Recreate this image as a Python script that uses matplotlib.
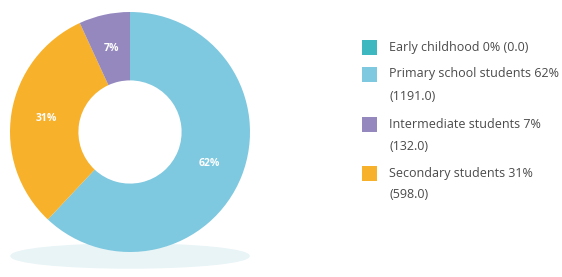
import matplotlib
matplotlib.use("Agg")
import matplotlib.pyplot as plt
from matplotlib.patches import Ellipse, Rectangle

categories = ["Early childhood", "Primary school students", "Intermediate students", "Secondary students"]
values = [0.0, 1191.0, 132.0, 598.0]
percents = [0, 62, 7, 31]
colors = ["#3DB8C0", "#7EC8E0", "#9488BE", "#F7B12B"]
legend_lines = [
    ["Early childhood 0% (0.0)"],
    ["Primary school students 62%", "(1191.0)"],
    ["Intermediate students 7%", "(132.0)"],
    ["Secondary students 31%", "(598.0)"],
]
# clockwise drawing order from the top
draw_order = [0, 1, 3, 2]

W, H = 562, 277
fig = plt.figure(figsize=(W / 100, H / 100), dpi=100)
ax = fig.add_axes([0, 0, 1, 1])

cx, cy, R = 130, H - 132, 120

ax.add_patch(Ellipse((cx, H - 256), 238, 24, color="#E8F4F6", zorder=0))

vals = [values[i] for i in draw_order]
cols = [colors[i] for i in draw_order]
pcts = [percents[i] for i in draw_order]
wedges, texts, autotexts = ax.pie(
    vals, colors=cols, startangle=90, counterclock=False, center=(cx, cy), radius=R,
    wedgeprops=dict(width=R * 0.57, linewidth=0),
    autopct=lambda p: "", pctdistance=0.71, frame=True)
ax.set_xlim(0, W)
ax.set_ylim(0, H)
ax.axis("off")
ax.set_aspect("equal")
for t, p in zip(autotexts, pcts):
    t.set_text(f"{p}%" if p > 0 else "")
    t.set_color("white")
    t.set_fontsize(7.5)
    t.set_fontweight("bold")
    t.set_family("Open Sans")

# legend
row_tops = [H - 40, H - 67, H - 117, H - 166]
for i, top in enumerate(row_tops):
    ax.add_patch(Rectangle((362, top - 15), 15, 15, color=colors[i], linewidth=0))
    for j, line in enumerate(legend_lines[i]):
        ax.text(389, top - 7 - j * 22, line, fontsize=9, color="#4a4a4a",
                va="center", ha="left", family="Open Sans")

fig.savefig("out.png", dpi=100)
